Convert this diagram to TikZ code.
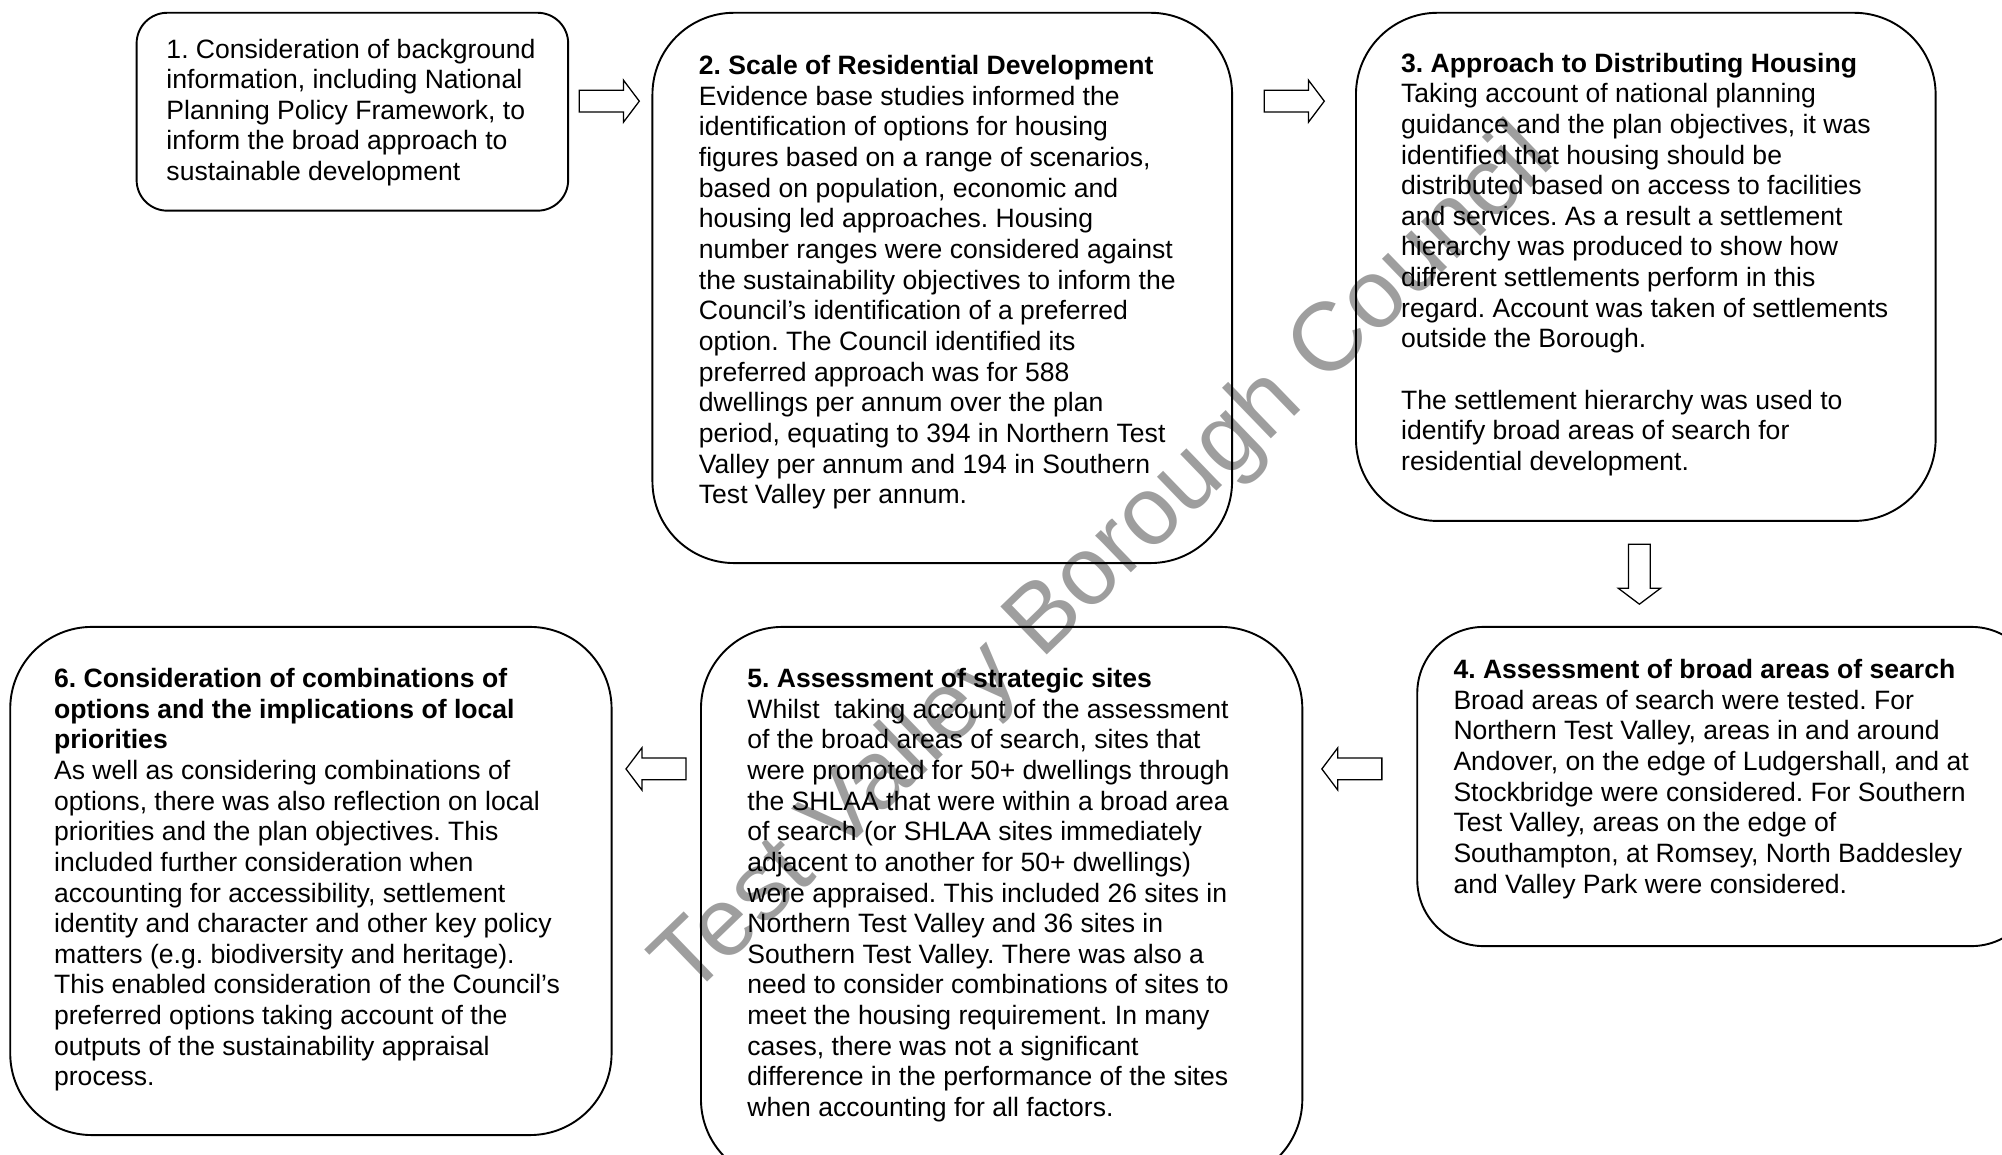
\documentclass[tikz,border=0pt]{standalone}
\usepackage{fontspec}
\setmainfont{Liberation Sans}
\usetikzlibrary{shapes.arrows,fit,calc}

\tikzset{
  stepbox/.style={draw, line width=0.75pt, inner sep=0pt, rounded corners=#1},
  stepbox/.default=32pt,
  steptext/.style={anchor=north west, inner sep=0pt, align=left,
    font=\fontsize{10.4}{12}\selectfont},
  flowarrow/.style={draw, single arrow, line width=0.5pt,
    inner xsep=0pt, inner ysep=4pt, minimum height=23.5pt,
    single arrow head extend=4pt, single arrow tip angle=106,
    shape border rotate=#1},
}

\begin{document}
\frenchspacing
\begin{tikzpicture}[x=0.5pt, y=-0.5pt]
  \useasboundingbox (0,0) rectangle (1568,904);
  \clip (0,0) rectangle (1568,904);

  % watermark
  \node[text=black!38, rotate=44, anchor=base, inner sep=0pt,
    font=\fontsize{38}{40}\selectfont] (mark) at (880,455)
    {Test Valley Borough Council};

  % boxes
  \node[stepbox=12pt, fit={(107,10) (445,165)}] (s1) {};
  \node[stepbox, fit={(511,10) (965,441)}] (s2) {};
  \node[stepbox, fit={(1062,10) (1516,408)}] (s3) {};
  \node[stepbox=26pt, fit={(1110,491) (1596,741)}] (s4) {};
  \node[stepbox, fit={(549,491) (1020,925)}] (s5) {};
  \node[stepbox, fit={(8,491) (479,889)}] (s6) {};

  % texts
  \node[steptext] (t1) at (130,30) {1. Consideration of background\\
    information, including National\\
    Planning Policy Framework, to\\
    inform the broad approach to\\
    sustainable development};

  \node[steptext] (t2) at (547,43) {\textbf{2. Scale of Residential Development}\\
    Evidence base studies informed the\\
    identification of options for housing\\
    figures based on a range of scenarios,\\
    based on population, economic and\\
    housing led approaches. Housing\\
    number ranges were considered against\\
    the sustainability objectives to inform the\\
    Council’s identification of a preferred\\
    option. The Council identified its\\
    preferred approach was for 588\\
    dwellings per annum over the plan\\
    period, equating to 394 in Northern Test\\
    Valley per annum and 194 in Southern\\
    Test Valley per annum.};

  \node[steptext] (t3) at (1097,41) {\textbf{3. Approach to Distributing Housing}\\
    Taking account of national planning\\
    guidance and the plan objectives, it was\\
    identified that housing should be\\
    distributed based on access to facilities\\
    and services. As a result a settlement\\
    hierarchy was produced to show how\\
    different settlements perform in this\\
    regard. Account was taken of settlements\\
    outside the Borough.\\[12pt]
    The settlement hierarchy was used to\\
    identify broad areas of search for\\
    residential development.};

  \node[steptext] (t4) at (1138,516) {\textbf{4. Assessment of broad areas of search}\\
    Broad areas of search were tested. For\\
    Northern Test Valley, areas in and around\\
    Andover, on the edge of Ludgershall, and at\\
    Stockbridge were considered. For Southern\\
    Test Valley, areas on the edge of\\
    Southampton, at Romsey, North Baddesley\\
    and Valley Park were considered.};

  \node[steptext] (t5) at (585,523) {\textbf{5. Assessment of strategic sites}\\
    Whilst\ \ taking account of the assessment\\
    of the broad areas of search, sites that\\
    were promoted for 50+ dwellings through\\
    the SHLAA that were within a broad area\\
    of search (or SHLAA sites immediately\\
    adjacent to another for 50+ dwellings)\\
    were appraised. This included 26 sites in\\
    Northern Test Valley and 36 sites in\\
    Southern Test Valley. There was also a\\
    need to consider combinations of sites to\\
    meet the housing requirement. In many\\
    cases, there was not a significant\\
    difference in the performance of the sites\\
    when accounting for all factors.};

  \node[steptext] (t6) at (42,523) {\textbf{6. Consideration of combinations of}\\
    \textbf{options and the implications of local}\\
    \textbf{priorities}\\
    As well as considering combinations of\\
    options, there was also reflection on local\\
    priorities and the plan objectives. This\\
    included further consideration when\\
    accounting for accessibility, settlement\\
    identity and character and other key policy\\
    matters (e.g. biodiversity and heritage).\\
    This enabled consideration of the Council’s\\
    preferred options taking account of the\\
    outputs of the sustainability appraisal\\
    process.};

  % arrows between the steps
  \node[flowarrow=0] (a12) at ($(s1.north east)!0.5!(s2.north west)+(-4,70)$) {};
  \node[flowarrow=0] (a23) at ($(s2.north east)!0.5!(s3.north west)+(-3,70)$) {};
  \node[flowarrow=270, inner xsep=4pt, inner ysep=0pt] (a34)
    at ($(s3.south)!0.5!(s3.south |- s4.north)+(-5,-3)$) {};
  \node[flowarrow=180] (a45) at ($(s5.north east)!0.5!(s4.north west)+(-3,112)$) {};
  \node[flowarrow=180] (a56) at ($(s6.north east)!0.5!(s5.north west)+(3,112)$) {};
\end{tikzpicture}
\end{document}
